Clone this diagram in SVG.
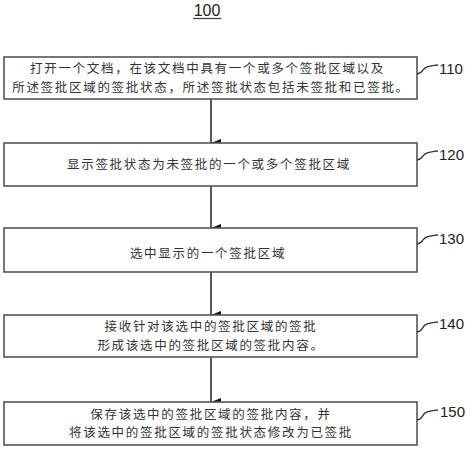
<svg xmlns="http://www.w3.org/2000/svg" width="472" height="450" viewBox="0 0 472 450">
<style>
.box{fill:#fff;stroke:#555;stroke-width:1.6}
.t{font-family:"Noto Sans CJK SC","Noto Sans CJK JP",sans-serif;font-size:12.5px;letter-spacing:1.7px;fill:#333;text-anchor:middle}
.lbl{font-family:"Liberation Sans",Arial,sans-serif;font-size:15px;fill:#222}
.sq{fill:none;stroke:#333;stroke-width:1.3}
.conn{stroke:#222;stroke-width:1.5;fill:none;marker-end:url(#ah)}
</style>
<defs>
<marker id="ah" viewBox="0 0 8 10" refX="4" refY="10" markerWidth="8" markerHeight="10" markerUnits="userSpaceOnUse" orient="auto">
<path d="M0,0 L8,0 L4,10 Z" fill="#111"/>
</marker>
</defs>
<rect width="472" height="450" fill="#fff"/>
<g id="title">
<text x="207" y="16" class="lbl" text-anchor="middle" style="font-size:16px">100</text>
<line x1="193" y1="18.5" x2="221" y2="18.5" stroke="#444" stroke-width="1.3"/>
</g>
<g id="connectors">
<path class="conn" d="M211,99 V143"/>
<path class="conn" d="M211,186 V228"/>
<path class="conn" d="M211,272 V315"/>
<path class="conn" d="M211,357 V402"/>
</g>
<g id="n110">
<rect class="box" x="4" y="57" width="413" height="42"/>
<text class="t"><tspan x="207.5" y="73.3">打开一个文档，在该文档中具有一个或多个签批区域以及</tspan><tspan x="211" y="91.5">所述签批区域的签批状态，所述签批状态包括未签批和已签批。</tspan></text>
<path class="sq" d="M417,74 C423,74 422,68 427,67 C431,66 434,65 438,65"/>
<text class="lbl" x="439" y="74">110</text>
</g>
<g id="n120">
<rect class="box" x="4" y="143" width="413" height="43"/>
<text class="t" x="209" y="169">显示签批状态为未签批的一个或多个签批区域</text>
<path class="sq" d="M417,160 C423,160 422,154 427,153 C431,152 434,151 438,151"/>
<text class="lbl" x="439" y="160">120</text>
</g>
<g id="n130">
<rect class="box" x="4" y="228" width="413" height="44"/>
<text class="t" x="208" y="257.5">选中显示的一个签批区域</text>
<path class="sq" d="M417,244 C423,244 422,238 427,237 C431,236 434,235 438,235"/>
<text class="lbl" x="439" y="244">130</text>
</g>
<g id="n140">
<rect class="box" x="4" y="315" width="413" height="42"/>
<text class="t"><tspan x="211" y="331.3">接收针对该选中的签批区域的签批</tspan><tspan x="211" y="349.5">形成该选中的签批区域的签批内容。</tspan></text>
<path class="sq" d="M417,332 C423,332 422,325 427,324 C431,323 434,322 438,322"/>
<text class="lbl" x="439" y="329">140</text>
</g>
<g id="n150">
<rect class="box" x="4" y="402" width="413" height="43"/>
<text class="t"><tspan x="211" y="418.8">保存该选中的签批区域的签批内容，并</tspan><tspan x="211" y="437">将该选中的签批区域的签批状态修改为已签批</tspan></text>
<path class="sq" d="M417,420 C423,420 422,413 427,412 C431,411 434,410 438,410"/>
<text class="lbl" x="440" y="417">150</text>
</g>
</svg>
